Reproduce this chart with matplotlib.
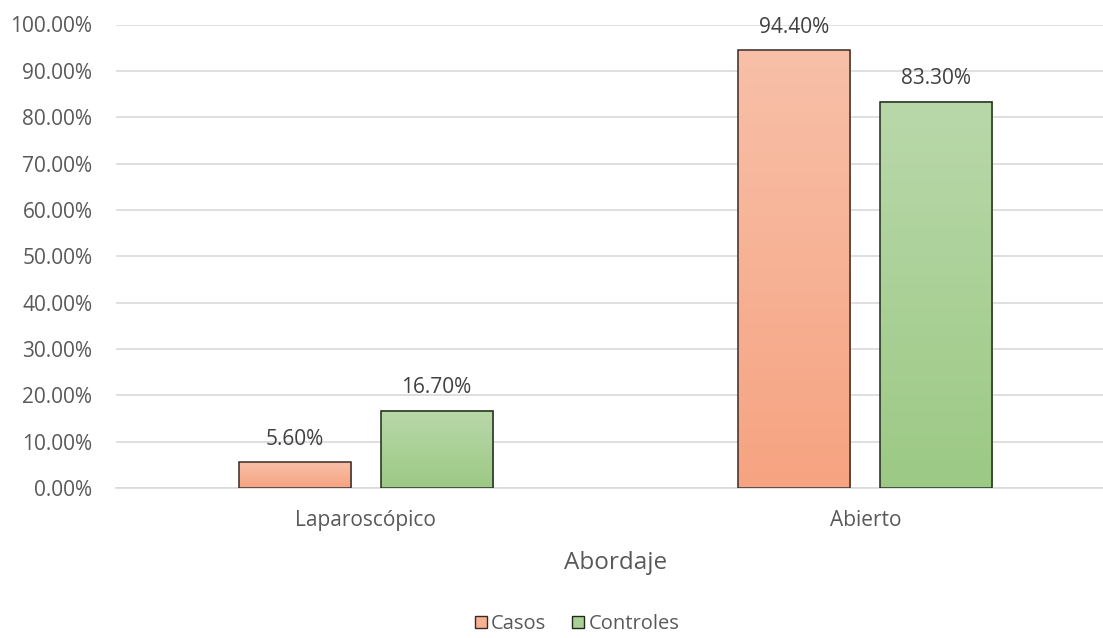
import numpy as np
import matplotlib.pyplot as plt
from matplotlib.patches import Patch
from matplotlib.colors import LinearSegmentedColormap

categories = ["Laparoscópico", "Abierto"]
casos = [5.6, 94.4]
controles = [16.7, 83.3]
series_names = ["Casos", "Controles"]
yticks = np.arange(0, 101, 10)

plt.rcParams["font.family"] = ["Open Sans", "DejaVu Sans"]
text_color = "#595959"

fig = plt.figure(figsize=(11.03, 6.38), dpi=100)
ax = fig.add_axes([116 / 1103, 150 / 638, 999 / 1103, 463.5 / 638])

x = np.arange(len(categories))
width = 0.2245
offset = 0.142

# gradient colours (top -> bottom), edge
grads = {
    "Casos": ("#F8C0A8", "#F6A381", "#3a2a25"),
    "Controles": ("#B9D8AA", "#9CC984", "#1f2a1a"),
}

def gradient_bar(ax, xc, h, top, bottom, edge):
    cmap = LinearSegmentedColormap.from_list("g", [bottom, top])
    grad = np.linspace(0, 1, 256).reshape(-1, 1)
    ax.imshow(grad, cmap=cmap, origin="lower", aspect="auto",
              extent=(xc - width / 2, xc + width / 2, 0, h), zorder=2)
    bar = ax.bar(xc, h, width, facecolor="none", edgecolor=edge, linewidth=1.1, zorder=3)
    return bar

for name, vals, sign in [("Casos", casos, -1), ("Controles", controles, 1)]:
    top, bottom, edge = grads[name]
    for xi, v in zip(x, vals):
        xc = xi + sign * offset
        gradient_bar(ax, xc, v, top, bottom, edge)
        ax.annotate(f"{v:.2f}%", (xc, v), xytext=(0, 9), textcoords="offset points",
                    ha="center", va="bottom", fontsize=15, color="#404040")

ax.set_xlim(-0.5, 1.5)
ax.set_ylim(0, 100)
ax.set_yticks(yticks)
ax.set_yticklabels([f"{t:.2f}%" for t in yticks], fontsize=15, color=text_color)
ax.set_xticks(x)
ax.set_xticklabels(categories, fontsize=15, color=text_color)
ax.tick_params(axis="y", length=0, pad=17)
ax.tick_params(axis="x", length=0, pad=16)
ax.grid(axis="y", color="#d9d9d9", linewidth=1.2, zorder=0)
ax.set_axisbelow(True)
for s in ["top", "right", "left"]:
    ax.spines[s].set_visible(False)
ax.spines["bottom"].set_color("#d9d9d9")
ax.spines["bottom"].set_linewidth(1.2)
ax.set_xlabel("Abordaje", fontsize=17.5, color=text_color, labelpad=14)

handles = [Patch(facecolor="#F7B193", edgecolor="#3a2a25", label="Casos"),
           Patch(facecolor="#AAD097", edgecolor="#1f2a1a", label="Controles")]
fig.legend(handles=handles, loc="center", bbox_to_anchor=(577 / 1103, 1 - 624 / 638),
           ncol=2, frameon=False, fontsize=14.5, handlelength=0.6, handleheight=0.6,
           handletextpad=0.2, columnspacing=1.3, labelcolor=text_color,
           borderpad=0.1)

fig.savefig("out.png", dpi=100)
